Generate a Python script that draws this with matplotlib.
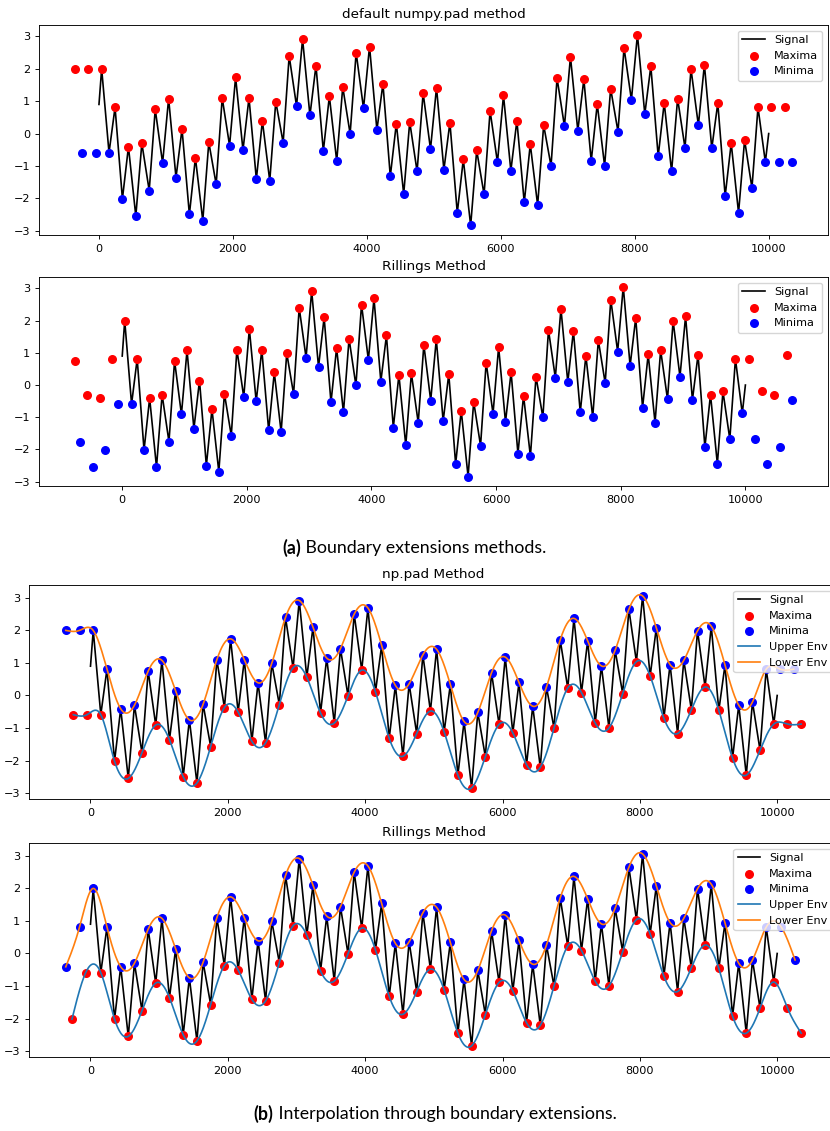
import numpy as np
import matplotlib
matplotlib.use('Agg')
import matplotlib.pyplot as plt

# extrema read along the signal (one maximum and one minimum every 200 samples)
MAX_VALS = [2.00, 0.81, -0.41, -0.30, 0.75, 1.08, 0.14, -0.75, -0.27, 1.10,
            1.74, 1.10, 0.39, 0.99, 2.40, 2.92, 2.10, 1.15, 1.44, 2.50,
            2.69, 1.54, 0.31, 0.36, 1.25, 1.42, 0.34, -0.80, -0.52, 0.70,
            1.18, 0.40, -0.33, 0.26, 1.71, 2.37, 1.68, 0.91, 1.39, 2.65,
            3.06, 2.08, 0.95, 1.08, 1.99, 2.13, 0.94, -0.30, -0.20, 0.81]
MIN_VALS = [-0.59, -2.02, -2.55, -1.76, -0.91, -1.36, -2.50, -2.69, -1.57, -0.37,
            -0.51, -1.41, -1.46, -0.28, 0.85, 0.56, -0.54, -0.85, -0.01, 0.78,
            0.11, -1.32, -1.87, -1.17, -0.48, -1.12, -2.45, -2.84, -1.88, -0.89,
            -1.15, -2.13, -2.21, -1.00, 0.23, 0.09, -0.85, -1.00, 0.06, 1.04,
            0.60, -0.70, -1.17, -0.44, 0.26, -0.46, -1.93, -2.45, -1.68, -0.88]
MAX_T = np.arange(40, 10000, 200)
MIN_T = np.arange(150, 10000, 200)
SIG_START = 0.9
SIG_END = 0.0

plt.rcParams.update({
    'font.size': 8.1, 'axes.titlesize': 9.7, 'legend.fontsize': 8.1,
    'axes.linewidth': 0.65, 'xtick.major.size': 2.8, 'ytick.major.size': 2.8,
    'xtick.major.width': 0.65, 'ytick.major.width': 0.65,
    'axes.titlepad': 4.9,
})

mx = np.array(MAX_VALS)
mn = np.array(MIN_VALS)

# signal drawn through start, alternating extrema, end
sig_t = np.concatenate([[0], np.ravel(np.column_stack([MAX_T, MIN_T])), [10000]])
sig_y = np.concatenate([[SIG_START], np.ravel(np.column_stack([mx, mn])), [SIG_END]])


def pad_ext(n=2):
    lt = np.arange(n, 0, -1) * 200
    tmax = np.concatenate([MAX_T[0] - lt, MAX_T, MAX_T[-1] + lt[::-1]])
    vmax = np.concatenate([np.full(n, mx[0]), mx, np.full(n, mx[-1])])
    tmin = np.concatenate([MIN_T[0] - lt, MIN_T, MIN_T[-1] + lt[::-1]])
    vmin = np.concatenate([np.full(n, mn[0]), mn, np.full(n, mn[-1])])
    return tmax, vmax, tmin, vmin


def rilling_ext(n=4):
    # mirror about the first maximum on the left, last minimum on the right
    a, b = MAX_T[0], MIN_T[-1]
    tmax = np.concatenate([(2 * a - MAX_T[1:n + 1])[::-1], MAX_T, 2 * b - MAX_T[-n:][::-1]])
    vmax = np.concatenate([mx[1:n + 1][::-1], mx, mx[-n:][::-1]])
    tmin = np.concatenate([(2 * a - MIN_T[:n])[::-1], MIN_T, 2 * b - MIN_T[-n - 1:-1][::-1]])
    vmin = np.concatenate([mn[:n][::-1], mn, mn[-n - 1:-1][::-1]])
    return tmax, vmax, tmin, vmin


def spline(x, y, xs):
    n = len(x)
    h = np.diff(x)
    A = np.zeros((n, n))
    r = np.zeros(n)
    A[0, 0] = A[-1, -1] = 1
    for i in range(1, n - 1):
        A[i, i - 1], A[i, i], A[i, i + 1] = h[i - 1], 2 * (h[i - 1] + h[i]), h[i]
        r[i] = 3 * ((y[i + 1] - y[i]) / h[i] - (y[i] - y[i - 1]) / h[i - 1])
    c = np.linalg.solve(A, r)
    b = (y[1:] - y[:-1]) / h - h * (2 * c[:-1] + c[1:]) / 3
    d = (c[1:] - c[:-1]) / (3 * h)
    i = np.clip(np.searchsorted(x, xs) - 1, 0, n - 2)
    dx = xs - x[i]
    return y[i] + b[i] * dx + c[i] * dx ** 2 + d[i] * dx ** 3


def ext_panel(ax, ext, title):
    tmax, vmax, tmin, vmin = ext
    ax.plot(sig_t, sig_y, color='black', lw=1.2, label='Signal')
    ax.scatter(tmax, vmax, color='red', s=30, label='Maxima', zorder=3)
    ax.scatter(tmin, vmin, color='blue', s=30, label='Minima', zorder=3)
    ax.set_title(title)
    ax.legend(loc='upper right')


def env_panel(ax, ext, title):
    tmax, vmax, tmin, vmin = ext
    ax.plot(sig_t, sig_y, color='black', lw=1.2, label='Signal')
    ax.scatter(tmin, vmin, color='red', s=30, label='Maxima', zorder=3)
    ax.scatter(tmax, vmax, color='blue', s=30, label='Minima', zorder=3)
    xs_lo = np.linspace(tmin[0], tmin[-1], 2000)
    xs_hi = np.linspace(tmax[0], tmax[-1], 2000)
    ax.plot(xs_lo, spline(tmin, vmin, xs_lo), color='tab:blue', lw=1.2, label='Upper Env', zorder=4)
    ax.plot(xs_hi, spline(tmax, vmax, xs_hi), color='tab:orange', lw=1.2, label='Lower Env', zorder=4)
    ax.set_title(title)
    ax.legend(loc='upper right')


W, H = 830, 1131
fig = plt.figure(figsize=(W / 100, H / 100), dpi=100)


def box(l, t, r, b):
    return [l / W, 1 - b / H, (r - l) / W, (b - t) / H]


ax1 = fig.add_axes(box(39, 25, 828, 235))
ext_panel(ax1, pad_ext(2), 'default numpy.pad method')
ax2 = fig.add_axes(box(39, 277, 828, 486))
ext_panel(ax2, rilling_ext(4), 'Rillings Method')
ax3 = fig.add_axes(box(29, 585, 838, 799))
env_panel(ax3, pad_ext(2), 'np.pad Method')
ax4 = fig.add_axes(box(29, 843, 838, 1057))
env_panel(ax4, rilling_ext(2), 'Rillings Method')


def caption(tag, text, xc, y):
    # bold tag followed by regular text, centred as one line
    renderer = fig.canvas.get_renderer()
    kw = dict(fontsize=12.8, family='Lato', va='center', ha='left')
    t1 = fig.text(0, 1 - y / H, tag, weight='bold', **kw)
    t2 = fig.text(0, 1 - y / H, ' ' + text, **kw)
    w1 = t1.get_window_extent(renderer).width
    w2 = t2.get_window_extent(renderer).width
    x0 = xc - (w1 + w2) / 2
    t1.set_x(x0 / W)
    t2.set_x((x0 + w1) / W)


caption('(a)', 'Boundary extensions methods.', 414, 548)
caption('(b)', 'Interpolation through boundary extensions.', 435, 1114)

fig.savefig('out.png', dpi=100)
